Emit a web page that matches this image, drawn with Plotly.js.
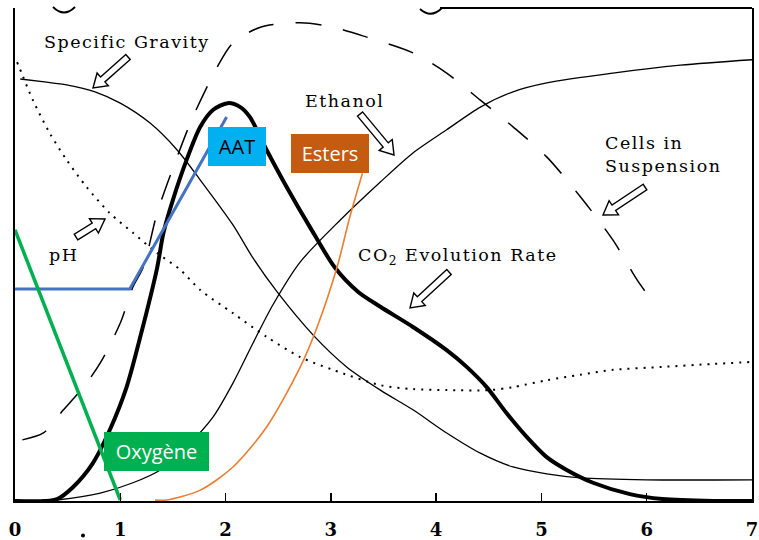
<!DOCTYPE html>
<html><head><meta charset="utf-8">
<script src="https://cdn.plot.ly/plotly-3.0.1.min.js"></script>
<style>
html,body{margin:0;padding:0;background:#fff}
text.annotation-text[style*="DejaVu Serif"]{letter-spacing:1.5px}
</style>
</head><body><div id="chart" style="width:759px;height:540px"></div>
<script>
// Time axis (days)
const xTicks = [0,1,2,3,4,5,6,7];
const xTickText = ['0','1','2','3','4','5','6','7'];

// CO2 evolution rate (thick solid)
const co2X = [0,0.28,0.40,0.55,0.74,0.90,1.06,1.19,1.35,1.41,1.50,1.63,1.76,1.88,2.02,2.14,2.23,2.39,2.58,2.80,3.04,3.26,3.47,3.78,4.10,4.29,4.48,4.67,4.86,5.05,5.24,5.49,5.84,6.15,6.63,7.00];
const co2Y = [0,0,0.4,2.8,7.7,14.4,23.1,33.3,47.3,54.4,61.1,69.2,75.9,79.3,80.7,79.9,77.9,71.2,63.7,55.6,47.3,42.4,39.4,35.3,30.6,27.2,23.1,17.8,13.0,8.9,6.3,3.7,1.4,0.4,0,0];

// Ethanol (thin solid)
const ethX = [0.28,0.40,0.81,1.12,1.38,1.63,1.88,2.07,2.26,2.45,2.71,3.09,3.47,3.78,4.10,4.42,4.73,5.05,5.68,6.32,7.00];
const ethY = [0,0.2,1.6,3.7,6.3,11.0,17.0,23.9,32.0,39.8,48.5,57.0,64.7,70.6,75.3,79.9,83.0,84.8,86.8,88.4,89.5];

// Specific gravity (thin solid)
const sgX = [0.05,0.28,0.49,0.76,1.00,1.28,1.54,1.76,2.07,2.26,2.49,2.83,3.15,3.47,3.78,4.10,4.42,4.73,5.05,5.37,6.00,7.00];
const sgY = [85.6,85.0,84.4,83.0,80.7,76.7,71.2,65.1,56.0,49.3,42.4,33.7,27.2,22.5,18.5,13.8,9.7,6.9,5.5,4.7,4.3,4.3];

// pH (dotted)
const phX = [0.02,0.07,0.17,0.33,0.49,0.68,0.90,1.12,1.35,1.57,1.76,2.07,2.39,2.71,3.02,3.47,3.78,4.10,4.51,4.73,5.05,5.37,5.68,6.15,6.63,7.00];
const phY = [89.0,86.4,81.3,74.6,69.2,63.7,58.4,54.4,50.3,46.9,42.8,38.1,33.3,29.2,26.6,23.5,22.7,22.5,22.5,23.1,24.5,25.6,26.6,27.2,27.8,28.2];

// Cells in suspension (dashed)
const cellX = [0.07,0.27,0.46,0.65,0.81,1.00,1.12,1.22,1.35,1.54,1.69,1.92,2.07,2.33,2.71,3.02,3.34,3.78,4.10,4.42,4.73,5.05,5.37,5.68,5.91,6.08];
const cellY = [12.4,13.8,18.5,23.1,28.0,36.1,43.4,47.5,58.4,69.8,77.9,88.0,92.9,96.1,97.0,96.1,94.1,90.9,86.8,81.3,75.9,69.8,61.7,52.9,44.8,39.8];

// AAT (blue)
const aatX = [0,1.09,2.01];
const aatY = [43.0,43.0,77.9];

// Esters (orange)
const estX = [1.33,1.44,1.76,2.07,2.39,2.71,2.87,3.06,3.18,3.30];
const estY = [0.2,0.2,2.2,6.9,15.0,27.2,35.3,47.5,57.6,66.5];

// Oxygène (green)
const oxyX = [0,1.00];
const oxyY = [55.0,0.2];

// ---- helpers for decorations (pixel -> paper) ----
const L0=15, R0=752, T0=8, B0=501;
const PX = p => (p-L0)/(R0-L0);
const PY = p => (B0-p)/(B0-T0);

function hollowArrow(tx,ty,hx,hy){
  const dx=hx-tx, dy=hy-ty, len=Math.hypot(dx,dy);
  const ux=dx/len, uy=dy/len, nx=-uy, ny=ux;
  const sw=3.3, hw=8.5, hl=13;
  const bx=hx-ux*hl, by=hy-uy*hl;
  const pts=[[tx+nx*sw,ty+ny*sw],[bx+nx*sw,by+ny*sw],[bx+nx*hw,by+ny*hw],[hx,hy],
             [bx-nx*hw,by-ny*hw],[bx-nx*sw,by-ny*sw],[tx-nx*sw,ty-ny*sw]];
  const path='M'+pts.map(p=>PX(p[0]).toFixed(5)+','+PY(p[1]).toFixed(5)).join(' L')+' Z';
  return {type:'path',xref:'paper',yref:'paper',path,fillcolor:'white',line:{color:'black',width:1.4},layer:'above'};
}
function pPath(pts){ // quadratic arc in pixel coords
  return 'M'+PX(pts[0][0])+','+PY(pts[0][1])+' Q'+PX(pts[1][0])+','+PY(pts[1][1])+' '+PX(pts[2][0])+','+PY(pts[2][1]);
}

const traces = [
  {x:cellX,y:cellY,mode:'lines',line:{color:'black',width:1.5,dash:'26px,22px',shape:'spline',smoothing:0.8}},
  {x:phX,y:phY,mode:'lines',line:{color:'black',width:2,dash:'2px,6px',shape:'spline',smoothing:0.8}},
  {x:sgX,y:sgY,mode:'lines',line:{color:'black',width:1.3,shape:'spline',smoothing:0.8}},
  {x:ethX,y:ethY,mode:'lines',line:{color:'black',width:1.3,shape:'spline',smoothing:0.8}},
  {x:co2X,y:co2Y,mode:'lines',line:{color:'black',width:4,shape:'spline',smoothing:0.8}},
  {x:estX,y:estY,mode:'lines',line:{color:'#ed7d31',width:1.6,shape:'spline',smoothing:0.8}},
  {x:aatX,y:aatY,mode:'lines',line:{color:'#4472c4',width:3}},
  {x:oxyX,y:oxyY,mode:'lines',line:{color:'#00b050',width:3.5}}
];

const serif = {family:'DejaVu Serif',size:17.5,color:'black'};
const annotations = [
  {text:'Specific Gravity',x:PX(127),y:PY(42),xanchor:'center',yanchor:'middle'},
  {text:'Ethanol',x:PX(303),y:PY(101),xanchor:'left',yanchor:'middle'},
  {text:'Cells in<br>Suspension',x:PX(603),y:PY(154),xanchor:'left',yanchor:'middle',align:'left'},
  {text:'CO<sub>2</sub> Evolution Rate',x:PX(356),y:PY(256),xanchor:'left',yanchor:'middle'},
  {text:'pH',x:PX(47),y:PY(255),xanchor:'left',yanchor:'middle'}
].map(a=>Object.assign({xref:'paper',yref:'paper',showarrow:false,font:serif},a));

const boxFont = {family:'Open Sans',size:20};
annotations.push(
  {text:'AAT',xref:'paper',yref:'paper',x:PX(237),y:PY(146.5),xanchor:'center',yanchor:'middle',showarrow:false,
   bgcolor:'#00b0f0',width:58,height:39,borderpad:0,borderwidth:0,font:Object.assign({color:'black'},boxFont)},
  {text:'Esters',xref:'paper',yref:'paper',x:PX(330),y:PY(153.5),xanchor:'center',yanchor:'middle',showarrow:false,
   bgcolor:'#c55a11',width:78,height:39,borderpad:0,borderwidth:0,font:Object.assign({color:'white'},boxFont)},
  {text:'Oxygène',xref:'paper',yref:'paper',x:PX(156.5),y:PY(451.5),xanchor:'center',yanchor:'middle',showarrow:false,
   bgcolor:'#00b050',width:105,height:39,borderpad:0,borderwidth:0,font:Object.assign({color:'white'},boxFont)}
);

const shapes = [
  hollowArrow(128,57,93,88),
  hollowArrow(360,114,394,155),
  hollowArrow(645,187,603,215),
  hollowArrow(449,272,410,308),
  hollowArrow(76,237,105,219),
  {type:'line',xref:'paper',yref:'paper',x0:PX(440),y0:PY(8),x1:1,y1:PY(8),line:{color:'black',width:2}},
  {type:'path',xref:'paper',yref:'paper',path:pPath([[53,7],[64,18],[75,7]]),line:{color:'black',width:1.8}},
  {type:'path',xref:'paper',yref:'paper',path:pPath([[420,9],[431,19],[442,8]]),line:{color:'black',width:1.8}},
  {type:'circle',xref:'paper',yref:'paper',x0:PX(81),y0:PY(537.5),x1:PX(85),y1:PY(533.5),fillcolor:'black',line:{width:0}}
];

const layout = {
  width:759,height:540,
  margin:{l:15,r:7,t:8,b:39},
  paper_bgcolor:'white',plot_bgcolor:'white',
  showlegend:false,
  xaxis:{range:[0,7],showgrid:false,zeroline:false,showline:true,linecolor:'black',linewidth:2,
         ticks:'inside',ticklen:8,tickwidth:1.5,tickcolor:'black',tickvals:xTicks,ticktext:xTickText,
         tickfont:{family:'DejaVu Serif',size:18,weight:'bold',color:'black'},ticklabelstandoff:11},
  yaxis:{range:[0,100],showgrid:false,zeroline:false,showline:true,mirror:true,linecolor:'black',linewidth:2,
         showticklabels:false,ticks:''},
  annotations, shapes
};

Plotly.newPlot('chart',traces,layout,{displayModeBar:false,staticPlot:true});
</script>
</body></html>
